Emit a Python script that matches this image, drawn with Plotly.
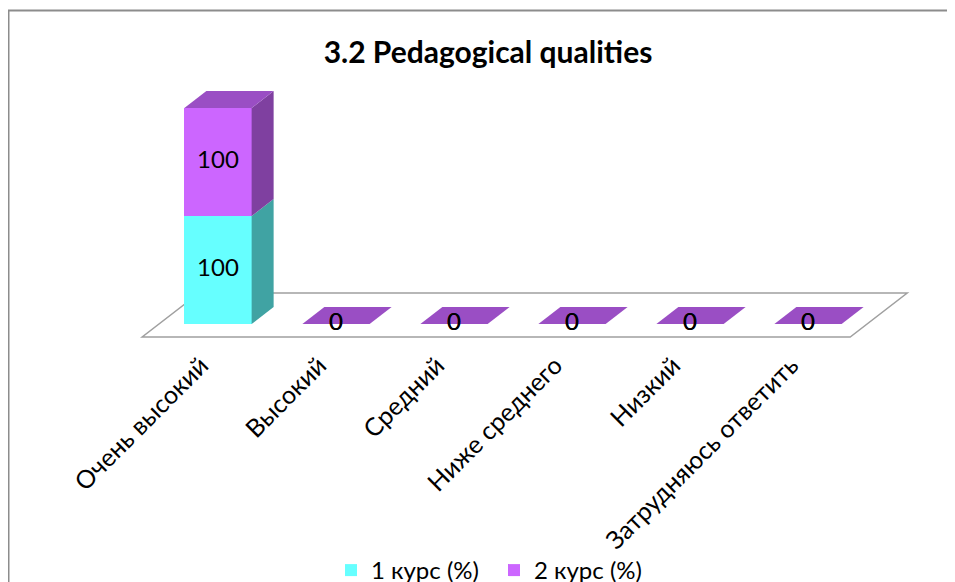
import plotly.graph_objects as go

# ---------------- data ----------------
categories = ["Очень высокий", "Высокий", "Средний", "Ниже среднего", "Низкий", "Затрудняюсь ответить"]
series_names = ["1 курс (%)", "2 курс (%)"]
course1 = [100, 0, 0, 0, 0, 0]
course2 = [100, 0, 0, 0, 0, 0]
series_values = [course1, course2]
title_text = "3.2 Pedagogical qualities"

# ---------------- style ----------------
front_colors = ["#66FFFF", "#CC66FF"]
side_colors = ["#40A3A3", "#7F40A0"]
top_colors = ["#52CCCC", "#9A4EC4"]
FONT = "Lato"

OFF = 8.0  # page body margin
W, H = 955, 582
ML, MR, MT, MB = 22, 20, 52, 245
PX_PER_CAT = 118.0
PX_PER_VAL = 1.08
X0_PX = 218.0 - OFF
Y0_PX = 324.0 - OFF

plot_w = W - ML - MR
plot_h = H - MT - MB
x_range = [(ML - X0_PX) / PX_PER_CAT, (W - MR - X0_PX) / PX_PER_CAT]
y_range = [(Y0_PX - (H - MB)) / PX_PER_VAL, (Y0_PX - MT) / PX_PER_VAL]

# oblique depth projection
DX = 57.0 / PX_PER_CAT
DY = 44.0 / PX_PER_VAL
ZB = 0.295   # bar front depth
DZ = 0.386   # bar depth
BW = 0.57    # bar width


def proj(c, v, z):
    return c + (z - ZB) * DX, v + (z - ZB) * DY


n = len(categories)
fig = go.Figure()

# front faces
for s, vals in enumerate(series_values):
    fig.add_trace(go.Bar(
        x=list(range(n)), y=vals, width=BW, name=series_names[s],
        marker=dict(color=front_colors[s], line=dict(width=0)),
        hoverinfo="skip",
    ))

# side and top faces
for i in range(n):
    lo = 0
    for s, vals in enumerate(series_values):
        v = vals[i]
        hi = lo + v
        if v > 0:
            pts = [proj(i + BW / 2, lo, ZB), proj(i + BW / 2, lo, ZB + DZ),
                   proj(i + BW / 2, hi, ZB + DZ), proj(i + BW / 2, hi, ZB)]
            fig.add_trace(go.Scatter(
                x=[p[0] for p in pts] + [pts[0][0]], y=[p[1] for p in pts] + [pts[0][1]],
                fill="toself", fillcolor=side_colors[s], mode="none",
                showlegend=False, hoverinfo="skip"))
        lo = hi
    top = lo
    pts = [proj(i - BW / 2, top, ZB), proj(i + BW / 2, top, ZB),
           proj(i + BW / 2, top, ZB + DZ), proj(i - BW / 2, top, ZB + DZ)]
    fig.add_trace(go.Scatter(
        x=[p[0] for p in pts] + [pts[0][0]], y=[p[1] for p in pts] + [pts[0][1]],
        fill="toself", fillcolor=top_colors[-1], mode="none",
        showlegend=False, hoverinfo="skip"))

# data labels
for s, vals in enumerate(series_values):
    base = [sum(series_values[k][i] for k in range(s)) for i in range(n)]
    fig.add_trace(go.Scatter(
        x=list(range(n)), y=[base[i] + vals[i] / 2 for i in range(n)],
        text=[str(v) for v in vals], mode="text",
        textposition="middle center",
        textfont=dict(family=FONT, size=24, color="black"),
        showlegend=False, hoverinfo="skip"))

# floor
fl = [proj(-0.5, 0, 0), proj(n - 0.5, 0, 0), proj(n - 0.5, 0, 1), proj(-0.5, 0, 1)]
floor_path = "M " + " L ".join(f"{x},{y}" for x, y in fl) + " Z"

shapes = [
    dict(type="path", path=floor_path, xref="x", yref="y", layer="below",
         fillcolor="white", line=dict(color="#A0A0A0", width=1.5)),
    dict(type="rect", xref="paper", yref="paper",
         x0=(0.5 - ML) / plot_w, x1=1.2,
         y0=-2, y1=(H - MB - 2.5) / plot_h,
         line=dict(color="#8C8C8C", width=2), fillcolor="rgba(0,0,0,0)"),
]

tick_pos = [proj(i, 0, 0)[0] for i in range(n)]

fig.update_layout(
    width=W, height=H,
    margin=dict(l=ML, r=MR, t=MT, b=MB, pad=0, autoexpand=False),
    paper_bgcolor="white", plot_bgcolor="white",
    barmode="stack", bargap=0,
    title=dict(text=f"<b>{title_text}</b>", x=(488 - OFF) / W, xref="container", xanchor="center",
               y=1 - (52 - OFF) / H, yref="container", yanchor="middle",
               font=dict(family=FONT, size=30, color="black")),
    xaxis=dict(range=x_range, tickvals=tick_pos, ticktext=categories, tickangle=-45,
               showgrid=False, zeroline=False, showline=False, ticks="",
               automargin=False,
               tickfont=dict(family=FONT, size=25, color="black"), fixedrange=True),
    yaxis=dict(range=y_range, visible=False, fixedrange=True, automargin=False),
    legend=dict(orientation="h", xref="container", yref="container", traceorder="normal",
                x=(331 - OFF) / W, xanchor="left", y=1 - (548 - OFF) / H, yanchor="top",
                entrywidth=118, entrywidthmode="pixels",
                font=dict(family=FONT, size=24, color="black"),
                bgcolor="rgba(0,0,0,0)"),
    shapes=shapes,
    showlegend=True,
)

fig.write_html("out.html")
